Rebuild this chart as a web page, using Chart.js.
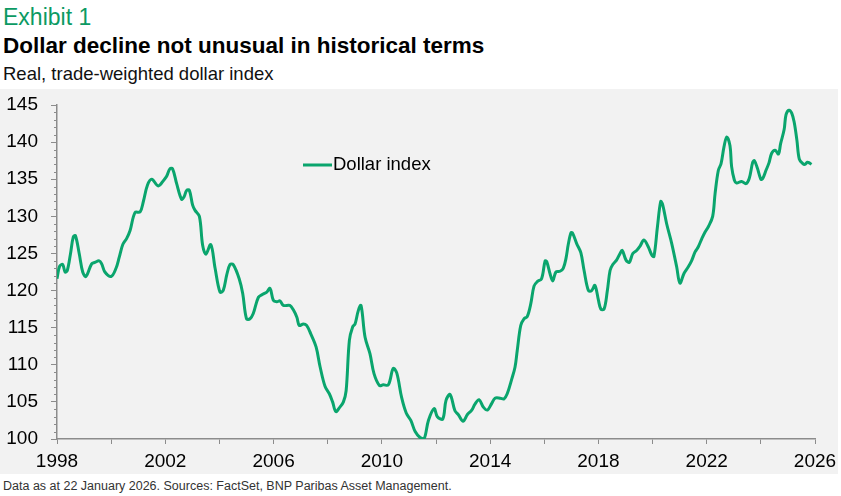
<!DOCTYPE html>
<html>
<head>
<meta charset="utf-8">
<script src="https://cdn.jsdelivr.net/npm/chart.js@4.4.1/dist/chart.umd.min.js"></script>
<style>
  body { margin: 0; background: #fff; font-family: "Liberation Sans", Arial, sans-serif; }
  #page { position: relative; width: 841px; height: 496px; overflow: hidden; }
  .t { position: absolute; left: 3px; white-space: nowrap; }
  #exhibit { top: 4px; font-size: 23px; color: #0b9a63; }
  #title { top: 33px; font-size: 22.5px; font-weight: bold; color: #000; }
  #subtitle { top: 63px; font-size: 18.5px; color: #111; }
  #panel { position: absolute; left: 0; top: 89px; width: 838px; height: 385px; background: #f2f2f2; }
  #note { top: 479px; font-size: 12.5px; color: #333; }
</style>
</head>
<body>
<div id="page">
  <div class="t" id="exhibit">Exhibit 1</div>
  <div class="t" id="title">Dollar decline not unusual in historical terms</div>
  <div class="t" id="subtitle">Real, trade-weighted dollar index</div>
  <div id="panel"><canvas id="chart"></canvas></div>
  <div class="t" id="note">Data as at 22 January 2026. Sources: FactSet, BNP Paribas Asset Management.</div>
</div>
<script>
var seriesName = "Dollar index";
var years = [
  1998.00, 1998.10, 1998.21, 1998.30, 1998.38, 1998.50, 1998.60, 1998.68, 1998.82, 1998.95,
  1999.07, 1999.28, 1999.40, 1999.56, 1999.65, 1999.77, 2000.00, 2000.18, 2000.30, 2000.43,
  2000.57, 2000.70, 2000.88, 2001.07, 2001.19, 2001.34, 2001.50, 2001.74, 2001.95, 2002.05,
  2002.17, 2002.27, 2002.42, 2002.60, 2002.69, 2002.79, 2002.89, 2003.01, 2003.10, 2003.26,
  2003.38, 2003.50, 2003.68, 2003.84, 2004.02, 2004.14, 2004.27, 2004.39, 2004.51, 2004.73,
  2004.86, 2005.00, 2005.13, 2005.25, 2005.44, 2005.60, 2005.75, 2005.87, 2005.99, 2006.12,
  2006.24, 2006.36, 2006.60, 2006.73, 2006.86, 2006.95, 2007.10, 2007.22, 2007.37, 2007.57,
  2007.72, 2007.90, 2008.06, 2008.18, 2008.30, 2008.45, 2008.58, 2008.68, 2008.80, 2008.92,
  2009.01, 2009.13, 2009.23, 2009.38, 2009.56, 2009.71, 2009.91, 2010.05, 2010.24, 2010.42,
  2010.55, 2010.73, 2010.90, 2011.07, 2011.23, 2011.41, 2011.56, 2011.72, 2011.93, 2012.05,
  2012.25, 2012.37, 2012.52, 2012.70, 2012.82, 2013.00, 2013.16, 2013.32, 2013.44, 2013.59,
  2013.75, 2013.90, 2014.06, 2014.18, 2014.37, 2014.51, 2014.63, 2014.80, 2014.92, 2015.00,
  2015.13, 2015.25, 2015.37, 2015.50, 2015.62, 2015.74, 2015.90, 2016.03, 2016.09, 2016.21,
  2016.31, 2016.43, 2016.58, 2016.70, 2016.80, 2016.89, 2016.99, 2017.05, 2017.20, 2017.35,
  2017.47, 2017.63, 2017.75, 2017.87, 2018.00, 2018.09, 2018.21, 2018.33, 2018.43, 2018.53,
  2018.67, 2018.80, 2018.88, 2019.02, 2019.14, 2019.27, 2019.41, 2019.54, 2019.68, 2019.84,
  2019.97, 2020.05, 2020.18, 2020.30, 2020.37, 2020.52, 2020.71, 2020.89, 2021.01, 2021.16,
  2021.32, 2021.44, 2021.57, 2021.69, 2021.82, 2021.94, 2022.06, 2022.22, 2022.31, 2022.43,
  2022.53, 2022.64, 2022.74, 2022.86, 2022.92, 2023.02, 2023.10, 2023.29, 2023.45, 2023.57,
  2023.70, 2023.76, 2023.87, 2024.00, 2024.07, 2024.19, 2024.30, 2024.40, 2024.53, 2024.65,
  2024.73, 2024.86, 2024.93, 2025.04, 2025.14, 2025.23, 2025.33, 2025.42, 2025.55, 2025.63,
  2025.72, 2025.79, 2025.87
];
var values = [
  121.6, 123.3, 123.5, 122.5, 122.7, 125.0, 127.2, 127.4, 125.0, 122.5,
  121.9, 123.6, 123.8, 124.0, 123.6, 122.5, 121.9, 123.0, 124.5, 126.2,
  127.0, 128.1, 130.5, 130.6, 132.0, 134.2, 135.0, 134.1, 134.9, 135.4,
  136.4, 136.4, 134.4, 132.3, 132.6, 133.5, 133.5, 131.5, 130.8, 130.0,
  126.1, 124.9, 126.2, 123.0, 119.8, 120.0, 122.1, 123.5, 123.5, 121.6,
  119.6, 116.2, 116.2, 116.9, 119.1, 119.5, 119.8, 120.3, 118.7, 118.5,
  118.6, 118.0, 118.0, 117.4, 116.4, 115.3, 115.5, 115.3, 114.2, 112.4,
  109.7, 107.1, 106.1, 105.0, 103.7, 104.3, 105.0, 106.5, 113.3, 115.1,
  115.5, 117.3, 118.0, 113.7, 111.5, 108.8, 107.2, 107.3, 107.3, 109.5,
  108.9, 105.6, 103.5, 102.5, 101.0, 100.2, 100.0, 102.5, 104.1, 103.0,
  102.7, 105.2, 106.0, 103.8, 103.3, 102.4, 103.3, 103.9, 104.7, 105.3,
  104.3, 103.9, 104.8, 105.5, 105.5, 105.4, 106.1, 108.1, 109.7, 111.9,
  115.3, 116.2, 116.5, 118.2, 120.6, 121.2, 121.6, 124.0, 123.9, 122.3,
  121.3, 122.5, 122.6, 123.0, 124.3, 126.3, 127.8, 127.7, 126.3, 125.1,
  122.7, 120.0, 120.0, 120.7, 118.7, 117.5, 117.5, 120.0, 122.7, 123.5,
  124.1, 125.0, 125.4, 124.1, 123.8, 125.0, 125.4, 126.0, 126.8, 125.9,
  124.8, 124.6, 128.6, 132.0, 131.6, 129.0, 126.3, 123.2, 121.0, 122.3,
  123.2, 124.0, 125.2, 125.9, 127.0, 127.9, 128.6, 130.0, 133.1, 136.2,
  137.1, 139.4, 140.7, 139.5, 136.7, 134.9, 134.5, 134.7, 134.4, 135.1,
  137.3, 137.5, 136.5, 135.0, 135.1, 136.2, 137.2, 138.5, 138.9, 138.4,
  139.8, 141.7, 143.7, 144.3, 143.9, 142.7, 140.3, 137.7, 137.1, 137.0,
  137.3, 137.2, 137.0
];
var xLabelYears = [1998, 2002, 2006, 2010, 2014, 2018, 2022, 2026];
var yLabels = [100, 105, 110, 115, 120, 125, 130, 135, 140, 145];

var green = "#0aa56d";
var axisGrey = "#8c8c8c";
var tickFont = { family: "'Liberation Sans', Arial, sans-serif", size: 19 };

// short unlabelled ticks: every 1 on y, handled here since Chart.js has no minor ticks
var minorTicks = {
  id: "minorTicks",
  afterDraw: function (chart) {
    var ctx = chart.ctx, y = chart.scales.y, area = chart.chartArea;
    ctx.save();
    ctx.strokeStyle = axisGrey;
    ctx.lineWidth = 1;
    for (var v = y.min; v <= y.max; v++) {
      if (yLabels.indexOf(v) !== -1) continue;
      var py = Math.round(y.getPixelForValue(v)) + 0.5;
      ctx.beginPath();
      ctx.moveTo(area.left - 3, py);
      ctx.lineTo(area.left, py);
      ctx.stroke();
    }
    ctx.restore();
  }
};

var innerLegend = {
  id: "innerLegend",
  afterDraw: function (chart) {
    var ctx = chart.ctx, area = chart.chartArea;
    var x0 = area.left + 246, yy = area.top + 60;
    ctx.save();
    ctx.strokeStyle = green;
    ctx.lineWidth = 3;
    ctx.beginPath();
    ctx.moveTo(x0, yy);
    ctx.lineTo(x0 + 29, yy);
    ctx.stroke();
    ctx.fillStyle = "#000";
    ctx.font = "18.5px 'Liberation Sans', Arial, sans-serif";
    ctx.textBaseline = "middle";
    ctx.fillText(seriesName, x0 + 30, yy);
    ctx.restore();
  }
};

new Chart("chart", {
  type: "line",
  data: {
    datasets: [{
      label: seriesName,
      data: years.map(function (t, i) { return { x: t, y: values[i] }; }),
      borderColor: green,
      borderWidth: 3,
      pointRadius: 0,
      tension: 0.35,
      fill: false
    }]
  },
  options: {
    responsive: true,
    maintainAspectRatio: false,
    animation: false,
    layout: { padding: { top: 16, right: 23, left: 0, bottom: 0 } },
    plugins: { legend: { display: false }, tooltip: { enabled: false } },
    scales: {
      x: {
        type: "linear",
        min: 1998,
        max: 2026,
        afterFit: function (s) { s.height = 35; s.paddingLeft = 0; s.paddingRight = 0; },
        ticks: {
          stepSize: 2,
          autoSkip: false,
          maxRotation: 0,
          padding: 6,
          color: "#000",
          font: tickFont,
          callback: function (v) { return xLabelYears.indexOf(v) !== -1 ? String(v) : ""; }
        },
        grid: { drawOnChartArea: false, tickLength: 5, tickColor: axisGrey },
        border: { color: axisGrey, width: 1.5 }
      },
      y: {
        min: 100,
        max: 145,
        afterFit: function (s) { s.width = 57; s.paddingTop = 0; s.paddingBottom = 0; },
        ticks: {
          stepSize: 5,
          padding: 13,
          color: "#000",
          font: tickFont,
          callback: function (v) { return yLabels.indexOf(v) !== -1 ? String(v) : ""; }
        },
        grid: { drawOnChartArea: false, tickLength: 6, tickColor: axisGrey },
        border: { color: axisGrey, width: 1.5 }
      }
    }
  },
  plugins: [minorTicks, innerLegend]
});
</script>
</body>
</html>
